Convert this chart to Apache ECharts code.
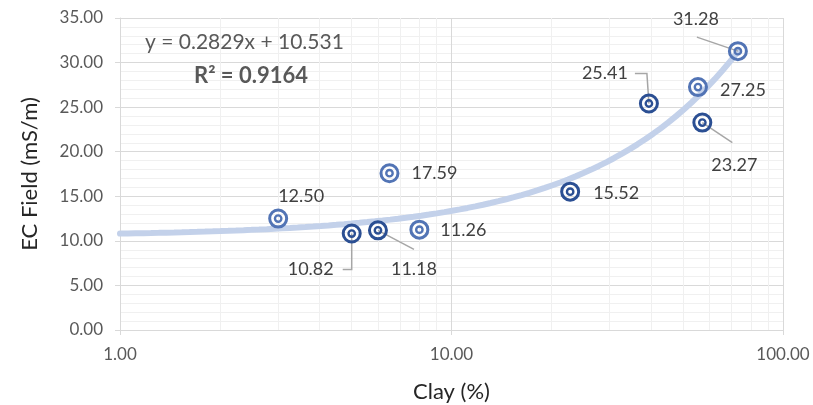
<!DOCTYPE html>
<html>
<head>
<meta charset="utf-8">
<script src="https://cdn.jsdelivr.net/npm/echarts@6/dist/echarts.min.js"></script>
<style>
  html, body { margin: 0; padding: 0; background: #ffffff; }
  #chart { width: 813px; height: 405px; }
</style>
</head>
<body>
<div id="chart"></div>
<script>
// Clay content (%) and field EC (mS/m) for each sample
const clayPct = [3.0, 5.0, 6.0, 6.5, 8.0, 22.8, 39.4, 55.4, 57.1, 73.1];
const ecField = [12.50, 10.82, 11.18, 17.59, 11.26, 15.52, 25.41, 27.25, 23.27, 31.28];

// Linear trend fitted to the samples
const trendSlope = 0.2829;
const trendIntercept = 10.531;
const trendR2 = 0.9164;

// Axis ticks
const yTicks = [0, 5, 10, 15, 20, 25, 30, 35];
const xMajorTicks = [1, 10, 100];
const xMinorTicks = [2, 3, 4, 5, 6, 7, 8, 9, 20, 30, 40, 50, 60, 70, 80, 90];

// Label placement per sample: pixel offset of the value text, optional leader polyline, ring tone
const labelPlacement = [
  { dx: 23, dy: -22, tone: 'light' },
  { dx: -41, dy: 36, leader: [[0, 0], [0, 36], [-9, 36]], tone: 'dark' },
  { dx: 36, dy: 39, leader: [[0, 0], [36, 19]], tone: 'dark' },
  { dx: 45, dy: 0, tone: 'light' },
  { dx: 44, dy: 1, tone: 'light' },
  { dx: 46, dy: 2, tone: 'dark' },
  { dx: -44, dy: -30, leader: [[0, 0], [-2, -30], [-14, -30]], tone: 'dark' },
  { dx: 45, dy: 3, tone: 'light' },
  { dx: 32, dy: 43, leader: [[0, 0], [30, 20]], tone: 'dark' },
  { dx: -42, dy: -32, leader: [[0, 0], [-41, -14]], tone: 'light' }
];

const ringColors = { dark: '#2b4f93', light: '#5274b5' };
const FONT = 'Lato, "Open Sans", sans-serif';

// Trend line drawn from the fitted equation, from the axis start to the largest sample
const trendPoints = [];
(function () {
  const x0 = Math.log10(xMajorTicks[0]);
  const x1 = Math.log10(Math.max.apply(null, clayPct));
  const n = 80;
  for (let k = 0; k <= n; k++) {
    const x = Math.pow(10, x0 + (x1 - x0) * k / n);
    trendPoints.push([x, trendSlope * x + trendIntercept]);
  }
})();

const samples = clayPct.map((c, i) => [c, ecField[i]]);

function renderSample(params, api) {
  const i = params.dataIndex;
  const p = api.coord([api.value(0), api.value(1)]);
  const L = labelPlacement[i];
  const color = ringColors[L.tone];
  const children = [];
  if (L.leader) {
    children.push({
      type: 'polyline',
      shape: { points: L.leader.map(o => [p[0] + o[0], p[1] + o[1]]) },
      style: { stroke: '#a6a6a6', lineWidth: 1.5, fill: null }
    });
  }
  children.push({
    type: 'circle',
    shape: { cx: p[0], cy: p[1], r: 8.5 },
    style: { fill: 'rgba(0,0,0,0)', stroke: color, lineWidth: 3 }
  });
  children.push({
    type: 'circle',
    shape: { cx: p[0], cy: p[1], r: 3.2 },
    style: { fill: 'rgba(0,0,0,0)', stroke: color, lineWidth: 2.4 }
  });
  children.push({
    type: 'text',
    x: p[0] + L.dx,
    y: p[1] + L.dy,
    style: {
      text: api.value(1).toFixed(2),
      font: '18px ' + FONT,
      fill: '#404040',
      align: 'center',
      verticalAlign: 'middle'
    }
  });
  return { type: 'group', children: children };
}

const chart = echarts.init(document.getElementById('chart'), null, { renderer: 'canvas' });

chart.setOption({
  animation: false,
  backgroundColor: '#ffffff',
  grid: { left: 120, right: 30, top: 18, bottom: 75, containLabel: false, outerBoundsMode: 'none' },
  xAxis: {
    type: 'log',
    logBase: 10,
    min: xMajorTicks[0],
    max: xMajorTicks[xMajorTicks.length - 1],
    name: 'Clay (%)',
    nameLocation: 'middle',
    nameGap: 51,
    nameTextStyle: { fontFamily: FONT, fontSize: 22, color: '#262626' },
    axisLine: { show: true, lineStyle: { color: '#d9d9d9', width: 1 } },
    axisTick: { show: true, length: 5, lineStyle: { color: '#d9d9d9' } },
    axisLabel: {
      margin: 16,
      fontFamily: FONT, fontSize: 17, color: '#595959',
      formatter: v => Number(v).toFixed(2)
    },
    splitLine: { show: true, lineStyle: { color: '#d9d9d9', width: 1 } },
    minorTick: { show: false },
    minorSplitLine: { show: false }
  },
  yAxis: {
    type: 'value',
    min: yTicks[0],
    max: yTicks[yTicks.length - 1],
    interval: yTicks[1] - yTicks[0],
    name: 'EC Field (mS/m)',
    nameLocation: 'middle',
    nameGap: 79,
    nameTextStyle: { fontFamily: FONT, fontSize: 22, color: '#262626' },
    axisLine: { show: true, lineStyle: { color: '#d9d9d9', width: 1 } },
    axisTick: { show: true, length: 5, lineStyle: { color: '#d9d9d9' } },
    axisLabel: {
      margin: 17,
      fontFamily: FONT, fontSize: 17, color: '#595959',
      formatter: v => Number(v).toFixed(2)
    },
    splitLine: { show: true, lineStyle: { color: '#d9d9d9', width: 1 } },
    minorTick: { show: false, splitNumber: 5 },
    minorSplitLine: { show: true, lineStyle: { color: '#f0f0f0', width: 1 } }
  },
  graphic: [
    {
      type: 'text', left: 145, top: 32, z: 10, zlevel: 1,
      style: {
        text: 'y = ' + trendSlope.toFixed(4) + 'x + ' + trendIntercept.toFixed(3),
        font: '21px ' + FONT, fill: '#595959'
      }
    },
    {
      type: 'text', left: 194, top: 65, z: 10, zlevel: 1,
      style: {
        text: 'R² = ' + trendR2.toFixed(4),
        font: 'bold 22px ' + FONT, fill: '#595959'
      }
    }
  ],
  series: [
    {
      name: 'minor clay grid',
      type: 'line',
      data: [],
      z: 1,
      silent: true,
      markLine: {
        silent: true,
        symbol: ['none', 'none'],
        label: { show: false },
        lineStyle: { color: '#f0f0f0', width: 1, type: 'solid' },
        emphasis: { disabled: true },
        data: xMinorTicks.map(v => ({ xAxis: v }))
      }
    },
    {
      name: 'trend',
      type: 'line',
      data: trendPoints,
      showSymbol: false,
      symbol: 'none',
      smooth: false,
      z: 2,
      zlevel: 1,
      silent: true,
      lineStyle: { color: '#c3d1ea', width: 6, cap: 'round' }
    },
    {
      name: 'EC Field',
      type: 'custom',
      data: samples,
      encode: { x: 0, y: 1 },
      z: 3,
      zlevel: 1,
      renderItem: renderSample
    }
  ]
});
</script>
</body>
</html>
